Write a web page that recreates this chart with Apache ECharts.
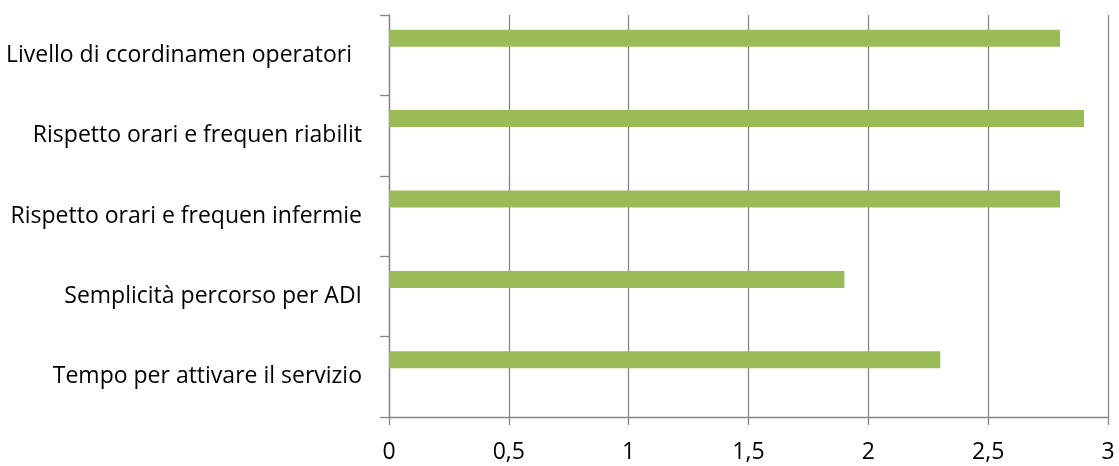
<!DOCTYPE html>
<html>
<head>
<meta charset="utf-8">
<script src="https://cdn.jsdelivr.net/npm/echarts@6/dist/echarts.min.js"></script>
<style>
  html, body { margin: 0; padding: 0; background: #fff; }
  #main { width: 1119px; height: 466px; }
</style>
</head>
<body>
<div id="main"></div>
<script>
// categorie dall'alto verso il basso
var categories = [
    'Livello di ccordinamen operatori',
    'Rispetto orari e frequen riabilit',
    'Rispetto orari e frequen infermie',
    'Semplicità percorso per ADI',
    'Tempo per attivare il servizio'
];
var values = [2.8, 2.9, 2.8, 1.9, 2.3];
var emptyValues = ['-', '-', '-', '-', '-'];
var xTicks = [0, 0.5, 1, 1.5, 2, 2.5, 3];

// la prima etichetta nell'originale e' un po' piu' a sinistra
var yData = categories.map(function (c, i) {
    if (i == 0) return { value: c, textStyle: { padding: [0, 10, 0, 0] } };
    return c;
});

var chart = echarts.init(document.getElementById('main'));
var option = {
    animation: false,
    grid: { left: 389, right: 11, top: 15, bottom: 49, outerBoundsMode: 'none', containLabel: false },
    xAxis: {
        type: 'value',
        min: xTicks[0],
        max: xTicks[xTicks.length - 1],
        interval: 0.5,
        axisLine: { show: true, lineStyle: { color: '#868686', width: 1.3 } },
        axisTick: { show: true, length: 8, lineStyle: { color: '#868686', width: 1.3 } },
        splitLine: { show: true, lineStyle: { color: '#868686', width: 1.3 } },
        axisLabel: {
            margin: 24,
            color: '#000',
            fontFamily: 'Open Sans',
            fontSize: 23,
            formatter: function (v) { return String(v).replace('.', ','); }
        }
    },
    yAxis: {
        type: 'category',
        inverse: true,
        data: yData,
        axisLine: { show: true, lineStyle: { color: '#868686', width: 1.3 } },
        axisTick: { show: true, length: 9, lineStyle: { color: '#868686', width: 1.3 } },
        axisLabel: {
            margin: 27,
            color: '#000',
            fontFamily: 'Open Sans',
            fontSize: 23
        }
    },
    series: [
        {
            type: 'bar',
            data: values,
            barWidth: 17,
            barGap: '0%',
            itemStyle: { color: '#9BBB59' }
        },
        { type: 'bar', data: emptyValues, barWidth: 17 },
        { type: 'bar', data: emptyValues, barWidth: 17 }
    ]
};
chart.setOption(option);
</script>
</body>
</html>
